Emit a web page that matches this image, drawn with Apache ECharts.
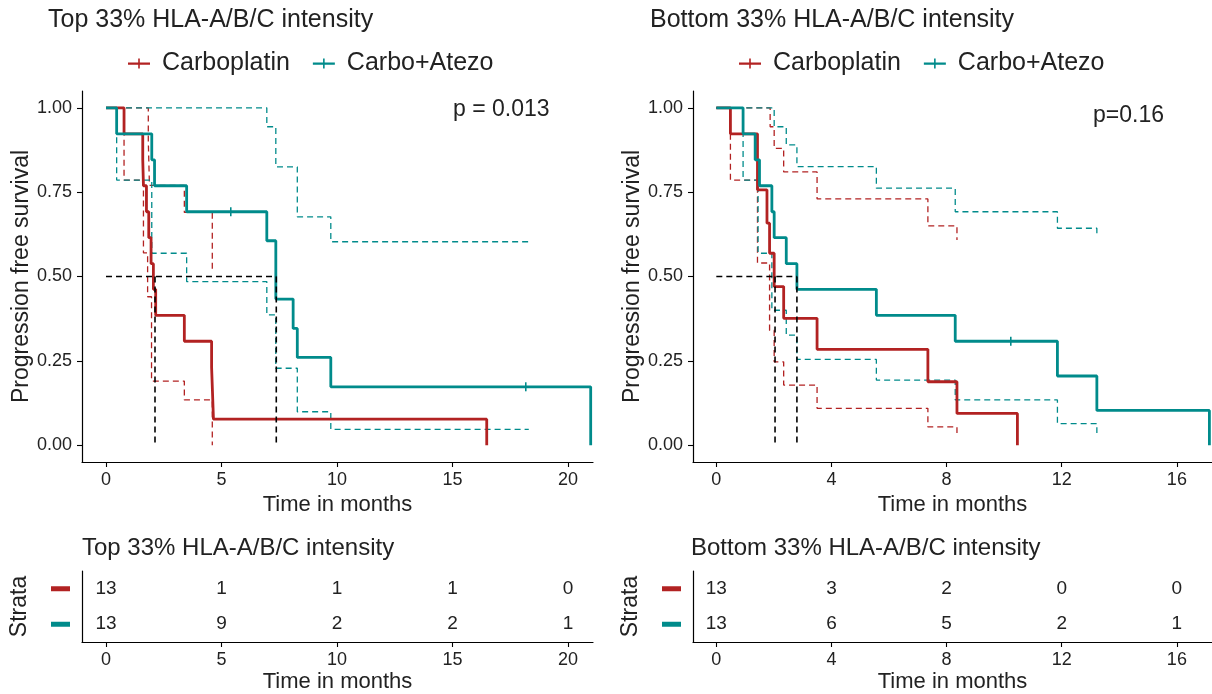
<!DOCTYPE html>
<html>
<head>
<meta charset="utf-8">
<script src="https://cdn.jsdelivr.net/npm/echarts@6/dist/echarts.min.js"></script>
<style>
html, body { margin: 0; padding: 0; background: #fff; }
#main { width: 1212px; height: 694px; }
</style>
</head>
<body>
<div id="main"></div>
<script>
// strata and colours
var strata = ['Carboplatin', 'Carbo+Atezo'];
var RED = '#B22222', TEAL = '#008B8B';

// Top 33% panel - KM steps [month, survival]
var topCarbo = [[0,1],[0.78,0.923],[1.59,0.846],[1.62,0.769],[1.75,0.692],[1.85,0.615],[1.95,0.538],[2.05,0.462],[2.15,0.385],[3.39,0.308],[4.57,0.231],[4.65,0.077],[16.48,0]];
var topAtezo = [[0,1],[0.46,0.923],[1.98,0.846],[2.1,0.769],[3.49,0.692],[6.96,0.606],[7.35,0.433],[8.1,0.346],[8.28,0.26],[9.73,0.173],[20.98,0]];
var topCarboUp = [[0,1],[1.83,0.9],[1.88,0.77],[3.39,0.69],[4.6,0.52]];
var topCarboLo = [[0,1],[0.78,0.786],[1.62,0.57],[1.8,0.44],[1.97,0.19],[3.39,0.134],[4.6,0]];
var topAtezoUp = [[0,1],[6.96,0.944],[7.35,0.825],[8.28,0.677],[9.73,0.603],[18.3,0.603]];
var topAtezoLo = [[0,1],[0.46,0.786],[1.98,0.569],[3.49,0.485],[6.96,0.386],[7.35,0.228],[8.28,0.099],[9.73,0.047],[18.3,0.047]];
var topCensor = [[5.4,0.692],[18.17,0.173]];
var topMedians = [2.12, 7.37];

// Bottom 33% panel
var botCarbo = [[0,1],[0.49,0.923],[1.43,0.757],[1.76,0.658],[1.85,0.569],[2.01,0.47],[2.34,0.376],[3.5,0.284],[7.35,0.188],[8.36,0.094],[10.46,0]];
var botAtezo = [[0,1],[0.93,0.923],[1.35,0.846],[1.5,0.769],[1.93,0.692],[2.01,0.615],[2.43,0.538],[2.8,0.462],[5.56,0.385],[8.3,0.308],[11.85,0.205],[13.22,0.103],[17.13,0]];
var botCarboUp = [[0,1],[1.87,0.944],[2.01,0.88],[2.34,0.81],[3.5,0.73],[7.35,0.65],[8.36,0.608]];
var botCarboLo = [[0,1],[0.49,0.786],[1.43,0.54],[1.85,0.34],[2.01,0.247],[2.34,0.178],[3.5,0.109],[7.35,0.054],[8.36,0.036]];
var botAtezoUp = [[0,1],[2.01,0.944],[2.43,0.89],[2.8,0.826],[5.56,0.762],[8.3,0.692],[11.85,0.643],[13.22,0.618]];
var botAtezoLo = [[0,1],[0.93,0.786],[1.45,0.569],[1.93,0.4],[2.43,0.326],[2.8,0.254],[5.56,0.193],[8.3,0.134],[11.85,0.064],[13.22,0.036]];
var botCensor = [[10.23,0.308]];
var botMedians = [2.04, 2.8];

// ticks
var yTicks = [0, 0.25, 0.5, 0.75, 1];
var topTicks = [0, 5, 10, 15, 20];
var botTicks = [0, 4, 8, 12, 16];

// numbers at risk
var topRiskCarbo = [13, 1, 1, 1, 0];
var topRiskAtezo = [13, 9, 2, 2, 1];
var botRiskCarbo = [13, 3, 2, 0, 0];
var botRiskAtezo = [13, 6, 5, 2, 1];

var TXT = '#222';
var FONT = 'Liberation Sans, Arial, sans-serif';
var LEGEND_ICON = 'path://M0,4h22v2.2h-22z M10.2,0h1.6v10h-1.6z';

function stepLine(name, data, color, gi, width, dash, z) {
    return {
        type: 'line', name: name, xAxisIndex: gi, yAxisIndex: gi,
        data: data, step: 'end', symbol: 'none', silent: true, z: z,
        lineStyle: { color: color, width: width, type: dash },
        itemStyle: { color: color }
    };
}

function medianLines(meds, gi) {
    var out = [];
    var last = Math.max.apply(null, meds);
    out.push({ type: 'line', xAxisIndex: gi, yAxisIndex: gi, symbol: 'none', silent: true, z: 4,
        data: [[0, 0.5], [last, 0.5]], lineStyle: { color: '#000', width: 1.6, type: [6, 4] } });
    meds.forEach(function (m) {
        out.push({ type: 'line', xAxisIndex: gi, yAxisIndex: gi, symbol: 'none', silent: true, z: 4,
            data: [[m, 0.5], [m, 0]], lineStyle: { color: '#000', width: 1.6, type: [6, 4] } });
    });
    return out;
}

function censorMarks(data, color, gi) {
    return { type: 'scatter', xAxisIndex: gi, yAxisIndex: gi, data: data, silent: true, z: 5,
        symbol: 'rect', symbolSize: [1.6, 9], itemStyle: { color: color, opacity: 1 } };
}

// scatter defaults to 0.8 opacity, which greys the labels too
function riskLabels(name, ticks, counts, gi) {
    var d = [];
    for (var i = 0; i < ticks.length; i++) d.push([ticks[i], name, counts[i]]);
    return { type: 'scatter', xAxisIndex: gi, yAxisIndex: gi, data: d, silent: true,
        symbolSize: 0.1, itemStyle: { color: '#fff', opacity: 1 },
        label: { show: true, position: 'inside', color: TXT, fontSize: 19,
            textBorderWidth: 0,
            formatter: function (p) { return p.value[2]; } } };
}

function xAxis(gi, min, max, ticks) {
    return {
        type: 'value', gridIndex: gi, min: min, max: max,
        axisLine: { show: true, onZero: false, lineStyle: { color: '#000', width: 1.2 } },
        axisTick: { show: true, customValues: ticks, length: 5, lineStyle: { color: '#000', width: 1.1 } },
        axisLabel: { show: true, customValues: ticks, fontSize: 18, color: TXT, margin: 9 },
        splitLine: { show: false },
        name: 'Time in months', nameLocation: 'middle', nameGap: 29,
        nameTextStyle: { fontSize: 22, color: TXT }
    };
}

function survAxis(gi) {
    return {
        type: 'value', gridIndex: gi, min: -0.05, max: 1.05,
        axisLine: { show: true, onZero: false, lineStyle: { color: '#000', width: 1.2 } },
        axisTick: { show: true, customValues: yTicks, length: 5, lineStyle: { color: '#000', width: 1.1 } },
        axisLabel: { customValues: yTicks, fontSize: 18, color: TXT, margin: 10,
            formatter: function (v) { return v.toFixed(2); } },
        splitLine: { show: false },
        name: 'Progression free survival', nameLocation: 'middle', nameGap: 48, nameRotate: 90,
        nameTextStyle: { fontSize: 23, color: TXT }
    };
}

function strataAxis(gi) {
    return {
        type: 'category', gridIndex: gi, data: strata, inverse: true,
        axisLine: { show: true, onZero: false, lineStyle: { color: '#000', width: 1.2 } },
        axisTick: { show: false },
        axisLabel: { margin: 12,
            formatter: function (v) { return v === strata[0] ? '{r|}' : '{t|}'; },
            rich: { r: { width: 19, height: 5, backgroundColor: RED },
                    t: { width: 19, height: 5, backgroundColor: TEAL } } },
        name: 'Strata', nameLocation: 'middle', nameGap: 51, nameRotate: 90,
        nameTextStyle: { fontSize: 23, color: TXT }
    };
}

function legendFor(left) {
    return { data: strata, left: left, top: 46, icon: LEGEND_ICON, itemWidth: 22, itemHeight: 10,
        itemGap: 23, selectedMode: false,
        textStyle: { fontSize: 25, color: TXT, padding: [0, 0, 0, 7] } };
}

function titleAt(text, left, top, size) {
    return { text: text, left: left, top: top, padding: 0,
        textStyle: { fontSize: size, fontWeight: 'normal', color: TXT } };
}

var chart = echarts.init(document.getElementById('main'));
var series = [];
// CI bands first, then curves on top
series.push(stepLine('ci', topCarboUp, RED, 0, 1.3, [6, 4], 2));
series.push(stepLine('ci', topCarboLo, RED, 0, 1.3, [6, 4], 2));
series.push(stepLine('ci', topAtezoUp, TEAL, 0, 1.3, [6, 4], 2));
series.push(stepLine('ci', topAtezoLo, TEAL, 0, 1.3, [6, 4], 2));
series.push(stepLine(strata[0], topCarbo, RED, 0, 2.8, 'solid', 3));
series.push(stepLine(strata[1], topAtezo, TEAL, 0, 2.8, 'solid', 3));
series = series.concat(medianLines(topMedians, 0));
series.push(censorMarks(topCensor, TEAL, 0));

series.push(stepLine('ci', botCarboUp, RED, 1, 1.3, [6, 4], 2));
series.push(stepLine('ci', botCarboLo, RED, 1, 1.3, [6, 4], 2));
series.push(stepLine('ci', botAtezoUp, TEAL, 1, 1.3, [6, 4], 2));
series.push(stepLine('ci', botAtezoLo, TEAL, 1, 1.3, [6, 4], 2));
series.push(stepLine(strata[0], botCarbo, RED, 1, 2.8, 'solid', 3));
series.push(stepLine(strata[1], botAtezo, TEAL, 1, 2.8, 'solid', 3));
series = series.concat(medianLines(botMedians, 1));
series.push(censorMarks(botCensor, TEAL, 1));

// risk tables
series.push(riskLabels(strata[0], topTicks, topRiskCarbo, 2));
series.push(riskLabels(strata[1], topTicks, topRiskAtezo, 2));
series.push(riskLabels(strata[0], botTicks, botRiskCarbo, 3));
series.push(riskLabels(strata[1], botTicks, botRiskAtezo, 3));

var option = {
    animation: false,
    backgroundColor: '#fff',
    textStyle: { fontFamily: FONT },
    title: [
        titleAt('Top 33% HLA-A/B/C intensity', 48, 8, 25),
        titleAt('Bottom 33% HLA-A/B/C intensity', 650, 8, 25),
        titleAt('p = 0.013', 453, 98, 23),
        titleAt('p=0.16', 1093, 104, 23),
        titleAt('Top 33% HLA-A/B/C intensity', 82, 536, 24),
        titleAt('Bottom 33% HLA-A/B/C intensity', 691, 536, 24)
    ],
    legend: [legendFor(123), legendFor(734)],
    grid: [
        { left: 82, top: 91, width: 511, height: 371 },
        { left: 693, top: 91, width: 519, height: 371 },
        { left: 82, top: 571, width: 511, height: 72 },
        { left: 693, top: 571, width: 519, height: 72 }
    ],
    xAxis: [
        xAxis(0, -1.04, 21.08, topTicks),
        xAxis(1, -0.81, 17.22, botTicks),
        xAxis(2, -1.04, 21.08, topTicks),
        xAxis(3, -0.81, 17.22, botTicks)
    ],
    yAxis: [survAxis(0), survAxis(1), strataAxis(2), strataAxis(3)],
    series: series
};
chart.setOption(option);
</script>
</body>
</html>
